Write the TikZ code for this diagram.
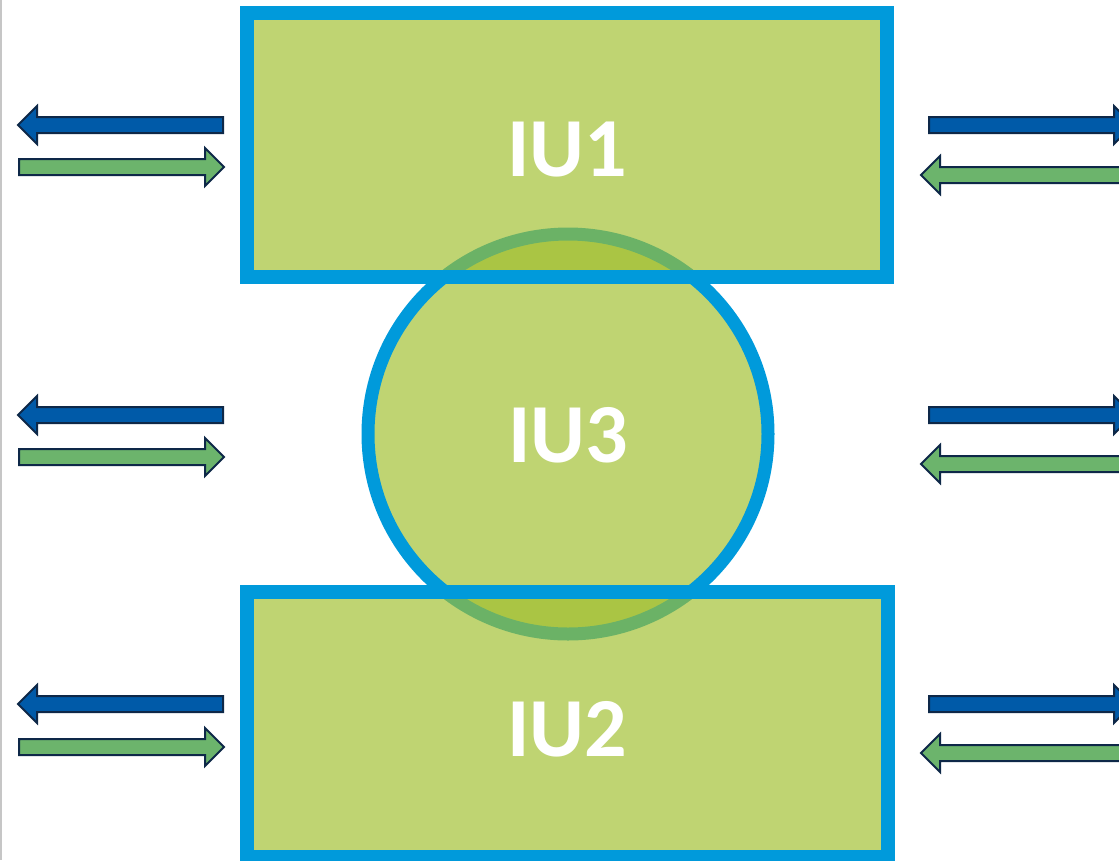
\documentclass[tikz,border=0pt]{standalone}
\usepackage{fontspec}
\setmainfont{Carlito}
\definecolor{iublue}{RGB}{0,154,219}
\definecolor{iufill}{RGB}{160,191,46}
\definecolor{arblue}{RGB}{0,90,168}
\definecolor{argreen}{RGB}{108,180,108}
\definecolor{arline}{RGB}{14,40,72}
\tikzset{
  unitbox/.style={draw=iublue, line width=14pt, fill=iufill, fill opacity=0.67, draw opacity=1},
  unitcirc/.style={draw=iublue, line width=13pt, fill=iufill, fill opacity=0.67, draw opacity=1},
  iulabel/.style={text=white, font=\fontsize{84}{90}\selectfont\bfseries, inner sep=0pt},
  arrowbody/.style={draw=arline, line width=2pt, line join=miter}
}
% right-pointing arrow: tail x, tip x, y, colour
\newcommand\rarr[4]{\fill[#4] (#1,#3-8) -- (#2-19,#3-8) -- (#2-19,#3-19) -- (#2,#3) -- (#2-19,#3+19) -- (#2-19,#3+8) -- (#1,#3+8) -- cycle;
  \draw[arrowbody] (#1,#3-8) -- (#2-19,#3-8) -- (#2-19,#3-19) -- (#2,#3) -- (#2-19,#3+19) -- (#2-19,#3+8) -- (#1,#3+8) -- cycle;}
% left-pointing arrow: tail x, tip x, y, colour
\newcommand\larr[4]{\fill[#4] (#1,#3-8) -- (#2+19,#3-8) -- (#2+19,#3-19) -- (#2,#3) -- (#2+19,#3+19) -- (#2+19,#3+8) -- (#1,#3+8) -- cycle;
  \draw[arrowbody] (#1,#3-8) -- (#2+19,#3-8) -- (#2+19,#3-19) -- (#2,#3) -- (#2+19,#3+19) -- (#2+19,#3+8) -- (#1,#3+8) -- cycle;}
\begin{document}
\begin{tikzpicture}[x=1pt,y=-1pt]
\useasboundingbox (0,0) rectangle (1119,860);
\clip (0,0) rectangle (1119,860);
\fill[white] (0,0) rectangle (1119,860);
\draw[gray!45, line width=1.5pt] (1,0) -- (1,860);
% circle first, rectangles over it
\draw[unitcirc] (568,434) circle[radius=200];
\draw[unitbox] (247,13) rectangle (887,277);
\draw[unitbox] (247,592) rectangle (888,857);
\node[iulabel] (iu1) at (567,150) {IU1};
\node[iulabel] (iu3) at (568,435) {IU3};
\node[iulabel] (iu2) at (567,729) {IU2};
% left arrows
\larr{223}{18}{125}{arblue}
\rarr{19}{224}{167}{argreen}
\larr{223}{18}{415}{arblue}
\rarr{19}{224}{457}{argreen}
\larr{223}{18}{704}{arblue}
\rarr{19}{224}{747}{argreen}
% right arrows
\rarr{929}{1133}{125}{arblue}
\larr{1126}{921}{175}{argreen}
\rarr{929}{1133}{415}{arblue}
\larr{1126}{921}{464}{argreen}
\rarr{929}{1133}{704}{arblue}
\larr{1126}{921}{753}{argreen}
\end{tikzpicture}
\end{document}
